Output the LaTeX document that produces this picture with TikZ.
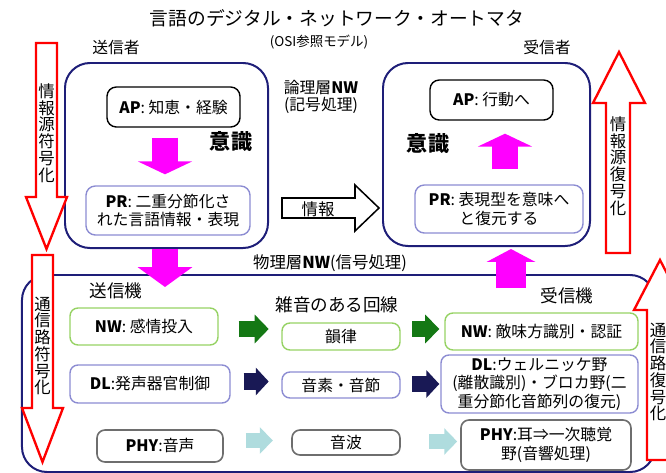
\documentclass[tikz,border=0pt]{standalone}
\usepackage{fontspec}
\setmainfont{Noto Sans CJK JP}
\setsansfont{Noto Sans CJK JP}
\usetikzlibrary{calc,arrows.meta}

\definecolor{navy}{RGB}{30,30,120}
\definecolor{mag}{RGB}{255,0,255}
\definecolor{leaf}{RGB}{150,210,100}
\definecolor{lav}{RGB}{140,140,210}
\definecolor{slate}{RGB}{110,110,110}
\definecolor{dkgreen}{RGB}{20,120,20}
\definecolor{dknavy}{RGB}{25,25,85}
\definecolor{pale}{RGB}{175,220,222}

\begin{document}
\begin{tikzpicture}[x=0.03cm, y=-0.03cm,
    layer/.style={draw=navy, line width=1.7pt, rounded corners=0.75cm},
    apbox/.style={draw=black, line width=1.2pt, rounded corners=0.28cm, font=\fontsize{13.5}{16}\selectfont},
    prbox/.style={draw=lav, line width=1.2pt, rounded corners=0.28cm, align=center, inner sep=1pt, font=\fontsize{13.5}{16}\selectfont},
    nwbox/.style={draw=leaf, line width=1.2pt, rounded corners=0.24cm, font=\fontsize{13.5}{16}\selectfont},
    dlbox/.style={draw=lav, line width=1.2pt, rounded corners=0.24cm, align=center, inner sep=1pt, font=\fontsize{13.5}{16}\selectfont},
    phybox/.style={draw=slate, line width=1.4pt, rounded corners=0.24cm, align=center, inner sep=1pt, font=\fontsize{13.5}{16}\selectfont},
    redarrow/.style={draw=red, line width=2pt, fill=white},
    vtext/.style={align=center, inner sep=0pt, font=\fontsize{14}{14.3}\selectfont},
    magarrow/.style={draw=mag, line width=23pt, -{Triangle[width=46pt,length=11pt]}},
    grarrow/.style={draw=dkgreen, line width=13pt, -{Triangle[width=24pt,length=12pt]}},
    nvarrow/.style={draw=dknavy, line width=14pt, -{Triangle[width=23pt,length=11pt]}},
    cyarrow/.style={draw=pale, line width=13pt, -{Triangle[width=22pt,length=11pt]}},
    label/.style={font=\fontsize{13.5}{16}\selectfont}
]
\useasboundingbox (0,0) rectangle (666,473);
\clip (0,0) rectangle (666,473);

% layers
\node[layer, minimum width=18.99cm, minimum height=5.91cm] (phys) at (338.5,373.5) {};
\node[layer, minimum width=6.09cm, minimum height=5.55cm] (sender) at (166.5,155.5) {};
\node[layer, minimum width=6.21cm, minimum height=5.49cm] (receiver) at (486.5,154.5) {};

% coding arrows
\draw[redarrow] (36,43) -- (57,43) -- (57,197) -- (67,197) -- (46.5,249) -- (26,197) -- (36,197) -- cycle;
\node[vtext] (srcenc) at (46.5,133) {情\\報\\源\\符\\号\\化};
\draw[redarrow] (32,255) -- (53,255) -- (53,408) -- (63,408) -- (42.5,462) -- (22,408) -- (32,408) -- cycle;
\node[vtext] (chenc) at (42.5,346) {通\\信\\路\\符\\号\\化};
\draw[redarrow] (606,253) -- (630,253) -- (630,103) -- (645,103) -- (619,52) -- (593,103) -- (606,103) -- cycle;
\node[vtext] (srcdec) at (618,166) {情\\報\\源\\復\\号\\化};
\draw[redarrow] (647,460) -- (673,460) -- (673,310) -- (686,310) -- (660,260) -- (634,310) -- (647,310) -- cycle;
\node[vtext] (chdec) at (658,372) {通\\信\\路\\復\\号\\化};

% titles
\node[font=\fontsize{16}{18}\selectfont] (title) at (337,18) {言語のデジタル・ネットワーク・オートマタ};
\node[font=\fontsize{11.5}{13}\selectfont] (osi) at (319,42) {(OSI参照モデル)};
\node[label] (sndr) at (116,47) {送信者};
\node[label] (rcvr) at (547,47) {受信者};
\node[align=center, font=\fontsize{13.5}{14}\selectfont] (logic) at (321,97) {論理層\textbf{NW}\\(記号処理)};
\node[font=\fontsize{14}{16}\selectfont] (physlbl) at (330,263) {物理層\textbf{NW}(信号処理)};

% sender / receiver
\node[apbox, minimum width=3.99cm, minimum height=1.2cm] (sAP) at (173.5,107) {\textbf{AP}: 知恵・経験};
\node[prbox, minimum width=4.92cm, minimum height=1.47cm] (sPR) at (168,210.5) {\textbf{PR}: 二重分節化さ\\れた言語情報・表現};
\node[font=\fontsize{18}{20}\selectfont\bfseries] (sCons) at (231,142) {意識};
\node[apbox, minimum width=3.69cm, minimum height=1.2cm] (rAP) at (491.5,100) {\textbf{AP}: 行動へ};
\node[prbox, minimum width=5.04cm, minimum height=1.44cm] (rPR) at (499,209) {\textbf{PR}: 表現型を意味へ\\と復元する};
\node[font=\fontsize{18}{20}\selectfont\bfseries] (rCons) at (428,144) {意識};

\draw[magarrow] ($(sAP.south)+(-8.5,10)$) -- ($(sPR.north)+(-3,-11)$);
\draw[magarrow] ($(rPR.north)+(6,-15)$) -- ($(rAP.south)+(13.5,13)$);
\draw[magarrow, -{Triangle[width=46pt,length=17pt]}] ($(sender.south)+(-1.5,0)$) -- ++(0,38);
\draw[magarrow, line width=25pt, -{Triangle[width=41pt,length=11pt]}] ($(receiver.south)+(24.5,41)$) -- ($(receiver.south)+(24.5,2)$);

% information arrow
\draw[line width=1.3pt, fill=white] (282,198) -- (355,198) -- (355,185) -- (379,208) -- (355,231) -- (355,218) -- (282,218) -- cycle;
\node[font=\fontsize{14}{16}\selectfont] (info) at (318,209) {情報};

% physical layer
\node[font=\fontsize{15}{17}\selectfont] (tx) at (116,291) {送信機};
\node[font=\fontsize{15}{17}\selectfont] (noisy) at (337,305) {雑音のある回線};
\node[font=\fontsize{15}{17}\selectfont] (rx) at (567,296) {受信機};

\node[nwbox, minimum width=4.44cm, minimum height=1.11cm] (tNW) at (144,326.5) {\textbf{NW}: 感情投入};
\node[nwbox, minimum width=3.54cm, minimum height=0.81cm] (cNW) at (341,336.5) {韻律};
\node[nwbox, minimum width=5.79cm, minimum height=1.11cm] (rNW) at (541.5,331.5) {\textbf{NW}: 敵味方識別・認証};

\node[dlbox, minimum width=4.8cm, minimum height=1.14cm] (tDL) at (150,384) {\textbf{DL}:発声器官制御};
\node[dlbox, minimum width=3.54cm, minimum height=0.78cm] (cDL) at (341,385) {音素・音節};
\node[dlbox, minimum width=5.91cm, minimum height=1.74cm] (rDL) at (539.5,384) {\textbf{DL}:ウェルニッケ野\\(離散識別)・ブロカ野(二\\重分節化音節列の復元)};

\node[phybox, minimum width=3.78cm, minimum height=0.96cm] (tPHY) at (160,446) {\textbf{PHY}:音声};
\node[phybox, minimum width=3.24cm, minimum height=0.75cm] (cPHY) at (346,442.5) {音波};
\node[phybox, minimum width=5.1cm, minimum height=1.5cm] (rPHY) at (546,445) {\textbf{PHY}:耳⇒一次聴覚\\野(音響処理)};

\draw[grarrow] ($(tNW.east)+(20,2.5)$) -- ++(30,0);
\draw[grarrow] ($(rNW.west)+(-32,-2.5)$) -- ($(rNW.west)+(-5,-2.5)$);
\draw[nvarrow] ($(tDL.east)+(13,-2.5)$) -- ++(25,0);
\draw[nvarrow] ($(rDL.west)+(-28,0)$) -- ($(rDL.west)+(-1,0)$);
\draw[cyarrow] ($(tPHY.east)+(22,-5.5)$) -- ++(27,0);
\draw[cyarrow] ($(rPHY.west)+(-31,-3.5)$) -- ($(rPHY.west)+(-3,-3.5)$);
\end{tikzpicture}
\end{document}
